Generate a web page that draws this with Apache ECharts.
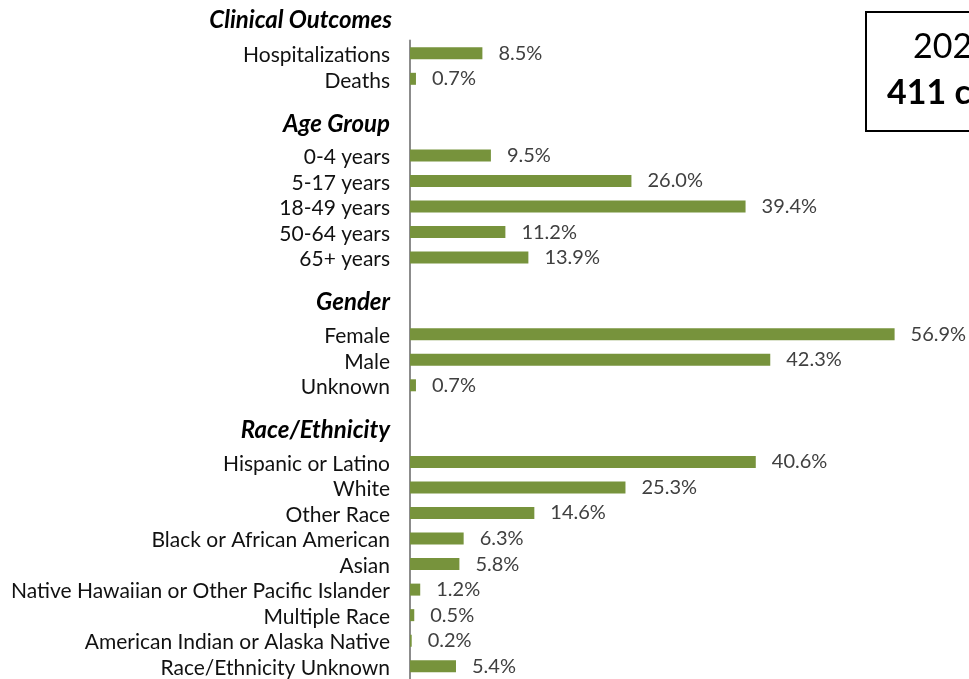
<!DOCTYPE html>
<html>
<head>
<meta charset="utf-8">
<script src="https://cdn.jsdelivr.net/npm/echarts@6/dist/echarts.min.js"></script>
<style>
  html, body { margin: 0; padding: 0; background: #fff; }
  #chart { width: 969px; height: 679px; }
</style>
</head>
<body>
<div id="chart"></div>
<script>
// rows top to bottom; '' = spacer, '#..' = section header
const categories = [
  'Hospitalizations', 'Deaths', '',
  '#Age Group', '0-4 years', '5-17 years', '18-49 years', '50-64 years', '65+ years', '',
  '#Gender', 'Female', 'Male', 'Unknown', '',
  '#Race/Ethnicity', 'Hispanic or Latino', 'White', 'Other Race', 'Black or African American',
  'Asian', 'Native Hawaiian or Other Pacific Islander', 'Multiple Race',
  'American Indian or Alaska Native', 'Race/Ethnicity Unknown'
];
const values = [
  8.5, 0.7, null,
  null, 9.5, 26.0, 39.4, 11.2, 13.9, null,
  null, 56.9, 42.3, 0.7, null,
  null, 40.6, 25.3, 14.6, 6.3, 5.8, 1.2, 0.5, 0.2, 5.4
];
const firstHeader = 'Clinical Outcomes';
const boxLines = ['2024', '411 cases'];

const FONT = 'Lato';
const chart = echarts.init(document.getElementById('chart'));

chart.setOption({
  animation: false,
  grid: { left: 410, right: 48, top: 40.5, height: 642 },
  xAxis: {
    type: 'value', min: 0, max: 60, show: false
  },
  yAxis: {
    type: 'category',
    inverse: true,
    data: categories,
    axisLine: { show: true, lineStyle: { color: '#8c8c8c', width: 2 } },
    axisTick: { show: false },
    axisLabel: {
      interval: 0,
      hideOverlap: false,
      margin: 20,
      padding: [4, 0, 0, 0],
      fontFamily: FONT,
      fontSize: 21,
      color: '#111',
      formatter: (v) => v.charAt(0) === '#' ? '{h|' + v.slice(1) + '}' : v,
      rich: {
        h: { fontFamily: FONT, fontSize: 24, fontWeight: 'bold', fontStyle: 'italic', color: '#000', padding: [0, 0, 16, 0] }
      }
    }
  },
  series: [{
    type: 'bar',
    data: values,
    barWidth: 12,
    itemStyle: { color: '#77933C' },
    label: {
      show: true,
      position: 'right',
      distance: 16,
      padding: [4, 0, 0, 0],
      fontFamily: FONT,
      fontSize: 20,
      color: '#404040',
      formatter: (p) => p.value == null ? '' : p.value.toFixed(1) + '%'
    }
  }],
  graphic: [
    {
      type: 'text', x: 392, y: 20,
      style: { text: firstHeader, textAlign: 'right', textVerticalAlign: 'middle',
        font: 'italic bold 24px ' + FONT, fill: '#000' }
    },
    {
      type: 'rect', shape: { x: 866, y: 12, width: 220, height: 119 },
      style: { fill: '#fff', stroke: '#000', lineWidth: 2 }
    },
    {
      type: 'text', x: 913, y: 47,
      style: { text: boxLines[0], textAlign: 'left', textVerticalAlign: 'middle',
        font: '34px ' + FONT, fill: '#000' }
    },
    {
      type: 'text', x: 887, y: 93,
      style: { text: boxLines[1], textAlign: 'left', textVerticalAlign: 'middle',
        font: 'bold 34px ' + FONT, fill: '#000' }
    }
  ]
});
</script>
</body>
</html>
